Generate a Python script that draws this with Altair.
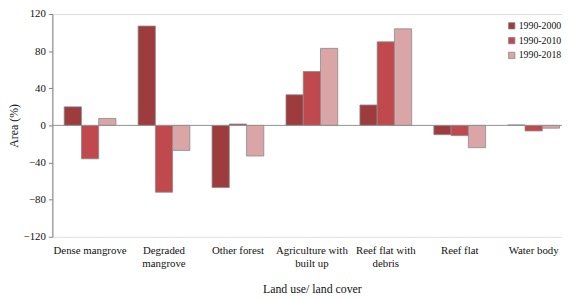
import altair as alt
import pandas as pd

categories = ["Dense mangrove", "Degraded\nmangrove", "Other forest",
              "Agriculture with\nbuilt up", "Reef flat with\ndebris", "Reef flat", "Water body"]
periods = ["1990-2000", "1990-2010", "1990-2018"]
v_2000 = [20, 107, -67, 33, 22, -10, 0.5]
v_2010 = [-36, -72, 1.5, 58, 90, -11, -6]
v_2018 = [7.5, -27, -33, 83, 104, -24, -3]
y_ticks = [-120, -80, -40, 0, 40, 80, 120]
colors = ["#9E3B3D", "#C0494D", "#D9A5A7"]

rows = []
for p, vals in zip(periods, [v_2000, v_2010, v_2018]):
    for c, v in zip(categories, vals):
        rows.append({"cat": c, "period": p, "value": v})
df = pd.DataFrame(rows)

W, H = 517, 226
font = "Times New Roman, Liberation Serif, serif"

y_axis = alt.Axis(title="Area (%)", values=y_ticks, grid=False, labelOverlap=False,
                  domainColor="#808080", tickColor="#808080", tickSize=4,
                  labelFont=font, labelFontSize=11, labelColor="#111", labelPadding=3,
                  titleFont=font, titleFontSize=12, titleFontWeight="normal",
                  titleColor="#111", titlePadding=3)
y_scale = alt.Scale(domain=[-120, 120], nice=False)

bars = alt.Chart(df).mark_bar(stroke="#8a8a8a", strokeWidth=0.8).encode(
    x=alt.X("cat:N", sort=categories,
            scale=alt.Scale(paddingInner=0.3, paddingOuter=0, range=[12, 514.5]),
            axis=alt.Axis(title="Land use/ land cover", labelAngle=0, domain=False, ticks=False,
                          labelExpr="split(datum.label, '\\n')", labelFont=font, labelFontSize=11,
                          labelColor="#111", labelPadding=8, labelLineHeight=13,
                          labelOverlap=False,
                          titleFont=font, titleFontSize=12, titleFontWeight="normal",
                          titleColor="#111", titlePadding=16)),
    xOffset=alt.XOffset("period:N", sort=periods),
    y=alt.Y("value:Q", scale=y_scale, axis=y_axis),
    color=alt.Color("period:N", sort=periods,
                    scale=alt.Scale(domain=periods, range=colors),
                    legend=alt.Legend(title=None, orient="none", legendX=461, legendY=7,
                                      symbolType="square", symbolSize=42, symbolStrokeColor="#8a8a8a",
                                      symbolStrokeWidth=0.8, labelFont=font, labelFontSize=10,
                                      labelColor="#111", rowPadding=5, labelOffset=2))
)

zero = alt.Chart(pd.DataFrame({"value": [0]})).mark_rule(color="#909090", strokeWidth=1).encode(
    y=alt.Y("value:Q", scale=y_scale, axis=y_axis), x=alt.value(0), x2=alt.value(W))

chart = alt.layer(bars, zero).properties(
    width=W, height=H,
    autosize=alt.AutoSizeParams(type="none"),
    padding={"left": 45, "top": 4, "right": 0, "bottom": 60},
).configure_view(stroke=None).configure(background="white")

chart.save("out.html", embed_options={"renderer": "svg", "actions": False})
